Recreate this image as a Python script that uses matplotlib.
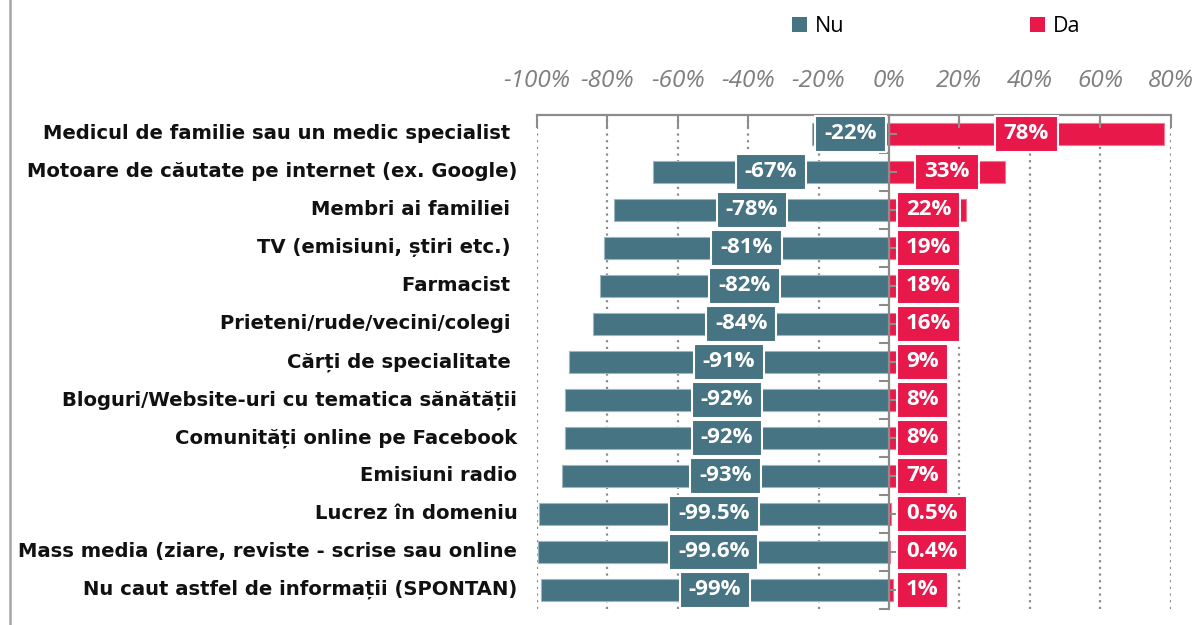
import matplotlib
matplotlib.use("Agg")
import matplotlib.pyplot as plt
from matplotlib.patches import Rectangle
from matplotlib.lines import Line2D
import matplotlib.transforms as mtransforms

categories = [
    "Medicul de familie sau un medic specialist ",
    "Motoare de căutate pe internet (ex. Google)",
    "Membri ai familiei ",
    "TV (emisiuni, știri etc.) ",
    "Farmacist ",
    "Prieteni/rude/vecini/colegi ",
    "Cărți de specialitate ",
    "Bloguri/Website-uri cu tematica sănătății",
    "Comunități online pe Facebook",
    "Emisiuni radio",
    "Lucrez în domeniu",
    "Mass media (ziare, reviste - scrise sau online",
    "Nu caut astfel de informații (SPONTAN)",
]
nu_values = [-22, -67, -78, -81, -82, -84, -91, -92, -92, -93, -99.5, -99.6, -99]
da_values = [78, 33, 22, 19, 18, 16, 9, 8, 8, 7, 0.5, 0.4, 1]
nu_labels = ["-22%", "-67%", "-78%", "-81%", "-82%", "-84%", "-91%", "-92%", "-92%",
             "-93%", "-99.5%", "-99.6%", "-99%"]
da_labels = ["78%", "33%", "22%", "19%", "18%", "16%", "9%", "8%", "8%", "7%",
             "0.5%", "0.4%", "1%"]
x_ticks = [-100, -80, -60, -40, -20, 0, 20, 40, 60, 80]
x_tick_labels = ["-100%", "-80%", "-60%", "-40%", "-20%", "0%", "20%", "40%", "60%", "80%"]
series_names = ["Nu", "Da"]

NU_COLOR = "#467482"
DA_COLOR = "#E8184A"
GRID_GRAY = "#8C8C8C"

fig = plt.figure(figsize=(12, 6.25), dpi=100)
ax = fig.add_axes([0.4475, 0.026, 0.528, 0.79])

y = list(range(len(categories)))
ax.barh(y, nu_values, height=0.58, color=NU_COLOR, edgecolor="#9FB6BE", linewidth=0.8, zorder=1)
ax.barh(y, da_values, height=0.58, color=DA_COLOR, edgecolor="#F07890", linewidth=0.8, zorder=1)

ax.set_xlim(-100, 80)
ax.set_ylim(len(categories) - 0.5, -0.5)

# dotted gridlines
for t in x_ticks:
    if t != 0:
        ax.axvline(t, color=GRID_GRAY, linestyle=(0, (1.0, 2.0)), linewidth=1.6, zorder=0)

# top axis
ax.xaxis.tick_top()
ax.set_xticks(x_ticks)
ax.set_xticklabels(x_tick_labels)
ax.tick_params(axis="x", direction="in", length=9, width=1.5, color=GRID_GRAY,
               pad=16, labelsize=17.5, labelcolor="#7F7F7F")
for lab in ax.get_xticklabels():
    lab.set_fontstyle("italic")
    lab.set_family(["Open Sans", "DejaVu Sans"])

# zero spine
for s in ["right", "bottom"]:
    ax.spines[s].set_visible(False)
ax.spines["top"].set_color(GRID_GRAY)
ax.spines["top"].set_linewidth(1.6)
ax.spines["left"].set_position(("data", 0))
ax.spines["left"].set_color(GRID_GRAY)
ax.spines["left"].set_linewidth(1.6)
ax.set_yticks(y)
ax.set_yticklabels([])
ax.set_yticks([i - 0.5 for i in range(len(categories) + 1)], minor=True)
ax.tick_params(axis="y", which="major", direction="in", length=6, width=1.5, color=GRID_GRAY)
ax.tick_params(axis="y", which="minor", direction="out", length=7, width=1.5, color=GRID_GRAY)

# category labels
trans = mtransforms.blended_transform_factory(ax.transAxes, ax.transData)
for i, c in enumerate(categories):
    ax.text(-0.031, i, c, transform=trans, ha="right", va="center",
            fontsize=14.1, fontweight="bold", color="#111111",
            family=["DejaVu Sans"])

# data labels with boxes
label_font = dict(fontsize=16, fontweight="bold", color="white",
                  family=["Open Sans", "DejaVu Sans"])
texts = []
for i, (v, lab) in enumerate(zip(nu_values, nu_labels)):
    t = ax.text(v / 2, i, lab, ha="center", va="center", zorder=6, **label_font)
    texts.append((t, v, i, NU_COLOR, "nu"))
for i, (v, lab) in enumerate(zip(da_values, da_labels)):
    t = ax.text(v / 2, i, lab, ha="center", va="center", zorder=6, **label_font)
    texts.append((t, v, i, DA_COLOR, "da"))

fig.canvas.draw()
renderer = fig.canvas.get_renderer()
x0_px = ax.transData.transform((0, 0))[0]
px_per_unit = ax.transData.transform((1, 0))[0] - x0_px
pad_px = 9
min_gap_px = 8
for t, v, i, col, kind in texts:
    bb = t.get_window_extent(renderer)
    box_w_px = bb.width + 2 * pad_px
    center_px = x0_px + (v / 2) * px_per_unit
    if kind == "da":
        center_px = max(center_px, x0_px + min_gap_px + box_w_px / 2)
    center = (center_px - x0_px) / px_per_unit
    t.set_x(center)
    w = box_w_px / px_per_unit
    ax.add_patch(Rectangle((center - w / 2, i - 0.47), w, 0.94, facecolor=col,
                           edgecolor="white", linewidth=1.5, zorder=5))

# legend
handles = [Rectangle((0, 0), 1, 1, facecolor=NU_COLOR),
           Rectangle((0, 0), 1, 1, facecolor=DA_COLOR)]
fig.legend(handles, series_names, loc="center", bbox_to_anchor=(0.78, 0.958), ncol=2,
           frameon=False, handlelength=0.72, handleheight=0.72, handletextpad=0.35,
           columnspacing=8.6, prop={"family": ["Open Sans", "DejaVu Sans"], "size": 15.5})

# left border line
fig.add_artist(Line2D([0.0085, 0.0085], [0, 1], transform=fig.transFigure,
                      color="#A6A6A6", linewidth=1.8))

fig.savefig("out.png", dpi=100)
